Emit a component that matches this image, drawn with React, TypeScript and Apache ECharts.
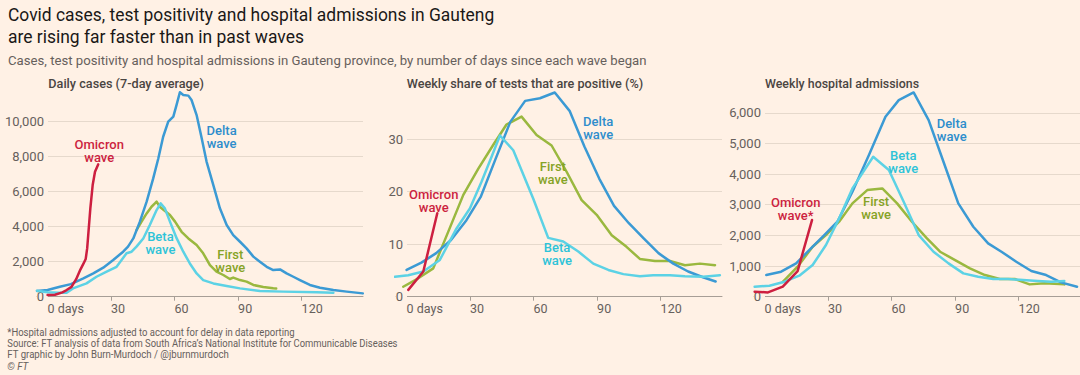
import React, { useEffect, useRef } from 'react';
import * as echarts from 'echarts';

// ---------- tick labels ----------
const dayTicks = [0, 30, 60, 90, 120];

// ---------- Panel 1: daily cases (7-day average), [day, value] ----------
const casesFirst = [[42, 3810], [44.4, 4290], [46.8, 4760], [49.1, 5140], [50.7, 5330], [51.5, 5430], [53, 5140], [57.8, 4670], [60.2, 4290], [63.3, 3710], [66.5, 3330], [70.4, 2950], [73.5, 2480], [76.7, 1810], [79.8, 1430], [83, 1240], [86.1, 1010], [87.7, 1090], [90.9, 950], [94, 860], [97.2, 670], [101.9, 550], [106.6, 480], [108, 470]];
const casesDelta = [[-5, 330], [0, 380], [5.8, 570], [11, 720], [16.9, 1050], [21.6, 1330], [26.3, 1660], [31, 2100], [35.7, 2570], [38, 2860], [40.5, 3330], [43.6, 4290], [46.8, 5430], [49.9, 6760], [52.3, 7900], [54.6, 9140], [57, 10000], [59.4, 10290], [60.9, 10950], [62.5, 11680], [64.1, 11530], [66.5, 11490], [68, 11240], [70.4, 10380], [72.8, 9050], [75.1, 7720], [78.3, 6380], [81.4, 5050], [84.6, 4100], [87.7, 3520], [90.9, 3140], [94, 2760], [97.2, 2290], [100.3, 2000], [103.5, 1710], [106.6, 1520], [109.8, 1560], [112.9, 1330], [116.1, 1140], [119.2, 950], [123.9, 670], [128.7, 510], [135, 380], [141.3, 290], [148.9, 190]];
const casesBeta = [[-5, 340], [0, 250], [5, 220], [9, 230], [12, 476], [18.4, 760], [23.1, 1140], [27.9, 1430], [32.6, 1710], [37.3, 2480], [39.7, 2570], [42, 2860], [45.2, 3330], [48.3, 4100], [51.5, 4950], [53.4, 5330], [55.4, 5050], [57.8, 4290], [61, 3330], [64.1, 2570], [67.2, 1900], [70.4, 1330], [73.5, 950], [78.3, 760], [84.6, 610], [90.9, 476], [100.3, 320], [111.3, 290], [127, 250], [135, 230]];
const casesOmicron = [[0, 100], [3.5, 110], [7, 250], [9, 380], [11.3, 560], [13.5, 1000], [15.5, 1550], [17, 1900], [18, 2150], [18.7, 2760], [19.2, 3520], [20.2, 5050], [21.3, 6380], [22.4, 7140], [23.9, 7560]];

// ---------- Panel 2: weekly test positivity (%) ----------
const posFirst = [[-1.6, 1.9], [5.5, 3.5], [12.6, 5.4], [19.7, 12.4], [26.8, 19.4], [33.9, 24.4], [40.9, 28.9], [47.2, 32.8], [54.3, 34.3], [61.4, 30.8], [68.5, 28.8], [75.6, 23.8], [82.7, 18.4], [89.8, 15.6], [96.9, 11.7], [103.9, 9.5], [110.2, 7.2], [117.3, 6.8], [124.4, 6.8], [131.5, 6.0], [138.6, 6.3], [145.7, 6.0]];
const posDelta = [[0, 5.1], [7, 6.5], [14, 8.3], [21, 10.8], [28, 14.4], [35, 19.0], [42, 26.2], [49, 33.3], [56, 37.3], [63, 37.8], [70, 38.9], [77, 35.4], [84, 28.6], [91, 22.5], [98, 17.3], [105, 14.0], [112, 11.1], [119, 8.3], [126, 6.3], [133, 4.8], [140, 3.7], [146, 2.9]];
const posBeta = [[-5.5, 3.8], [0.8, 4.1], [7.9, 4.8], [15.7, 7.0], [23.6, 13.0], [29.9, 16.8], [35.4, 21.9], [40.2, 26.7], [44.1, 30.7], [50.4, 27.9], [59.8, 18.7], [66.9, 11.2], [74, 10.5], [81.1, 8.6], [88.2, 6.3], [95.3, 5.1], [102.4, 4.3], [110.2, 3.9], [116.5, 4.1], [124.4, 4.1], [131.5, 3.9], [140.2, 3.8], [148, 4.1]];
const posOmicron = [[0.8, 1.3], [7.9, 4.8], [14.5, 15.9]];

// ---------- Panel 3: weekly hospital admissions ----------
const admFirst = [[8.6, 480], [15.6, 978], [22.7, 1630], [29, 2011], [35.2, 2446], [41.5, 3044], [48.5, 3478], [55.6, 3533], [62.6, 3044], [69.6, 2446], [76.7, 1902], [82.9, 1467], [90, 1196], [97, 924], [104.1, 707], [111.1, 576], [118.2, 576], [125.2, 402], [132.2, 435], [141.6, 402]];
const admDelta = [[0.8, 707], [7.8, 815], [14.9, 1087], [21.9, 1576], [28.2, 2011], [34.4, 2446], [41.5, 3424], [49.3, 4620], [57.1, 5870], [63.4, 6413], [70.4, 6663], [77.5, 5761], [84.5, 4402], [91.5, 3044], [98.6, 2283], [105.6, 1739], [111.9, 1467], [118.9, 1141], [126, 837], [133, 707], [140, 467], [147.6, 326]];
const admBeta = [[-4.7, 326], [2.3, 359], [9.4, 489], [16.4, 685], [22.7, 1033], [29, 1685], [35.2, 2554], [41.5, 3533], [47.7, 4185], [51.3, 4565], [58.7, 4131], [65.7, 3098], [72.8, 2011], [79.8, 1467], [86.9, 1087], [93.9, 761], [100.9, 652], [108, 576], [115, 576], [122.1, 544], [129.1, 511], [135.4, 489], [141.6, 511]];
const admOmicron = [[-4.7, 163], [1.6, 141], [8.6, 326], [15.6, 837], [22.4, 2500]];

// ---------- annotation anchors [day, value] ----------
const casesLabelAt = { omicron: [24.4, 8350], delta: [82.2, 9100], beta: [53.3, 3070], first: [86.3, 2040] };
const posLabelAt = { omicron: [12.8, 18.2], delta: [90.5, 32.1], beta: [71.1, 8.1], first: [69.1, 23.6] };
const admLabelAt = { omicron: [14.7, 2860], delta: [88.4, 5435], beta: [65.5, 4400], first: [52.7, 2890] };

const panelTitles = ['Daily cases (7-day average)', 'Weekly share of tests that are positive (%)', 'Weekly hospital admissions'];
const yMax = [12000, 40, 6850];
const yInterval = [2000, 10, 1000];

const titleLines = ['Covid cases, test positivity and hospital admissions in Gauteng', 'are rising far faster than in past waves'];
const subtitle = 'Cases, test positivity and hospital admissions in Gauteng province, by number of days since each wave began';
const footerLines = [
  '*Hospital admissions adjusted to account for delay in data reporting',
  "Source: FT analysis of data from South Africa\u2019s National Institute for Communicable Diseases",
  'FT graphic by John Burn-Murdoch / @jburnmurdoch',
  '\u00A9 FT',
];

const BG = '#fff1e5';
const COL = { first: '#9ab83f', delta: '#3b9ad4', beta: '#5cd2e5', omicron: '#cd1f40' };
const LABCOL = { first: '#86a326', delta: '#2e8dcc', beta: '#2ec3d8', omicron: '#cc1f40' };
const FONT = 'Roboto';

export default function App() {
  const ref = useRef<HTMLDivElement>(null);
  useEffect(() => {
    document.body.style.margin = '0';
    const chart = echarts.init(ref.current!, null, { renderer: 'svg' });
    const ctx = document.createElement('canvas').getContext('2d')!;
    const fit = (text: string, size: number, weight: number | string, target: number, style = 'normal') => {
      ctx.font = `${style} ${weight} ${size}px ${FONT}`;
      return target / ctx.measureText(text).width;
    };
    const gtext = (text: string, x: number, y: number, size: number, weight: any, fill: string, target: number, style = 'normal') => ({
      type: 'text', x, y, scaleX: fit(text, size, weight, target, style), silent: true,
      style: { text, fill, fontSize: size, fontWeight: weight, fontFamily: FONT, fontStyle: style, verticalAlign: 'middle', align: 'left' },
    });

    const gridLeft = [37, 396, 754];
    const grids = gridLeft.map((l) => ({ left: l, top: 86.7, width: 326, height: 210 }));
    const xAxes = gridLeft.map((_, i) => ({
      type: 'value', gridIndex: i, min: -5, max: 149,
      axisLine: { show: true, lineStyle: { color: '#a79e96', width: 1 } },
      axisTick: { show: true, customValues: dayTicks, length: 4, lineStyle: { color: '#a79e96' } },
      axisLabel: {
        customValues: dayTicks, align: 'left', margin: 5, color: '#66605c', fontSize: 12.5, fontFamily: FONT,
        formatter: (v: number) => (v === 0 ? '0 days' : String(v)),
      },
      splitLine: { show: false },
    }));
    const yAxes = gridLeft.map((_, i) => ({
      type: 'value', gridIndex: i, min: 0, max: yMax[i], interval: yInterval[i],
      axisLine: { show: false }, axisTick: { show: false },
      axisLabel: {
        showMaxLabel: false, margin: -11, color: '#66605c', fontSize: 13, fontFamily: FONT,
        backgroundColor: BG, padding: [0, 4, 0, 0],
        formatter: (v: number) => v.toLocaleString('en-US'),
      },
      splitLine: { show: true, showMaxLine: false, showMinLine: false, lineStyle: { color: '#e6d9cc', width: 1 } },
    }));

    const mk = (name: string, text: string, at: number[], color: string) => ({
      symbol: 'circle', symbolSize: 1, silent: true,
      itemStyle: { color: 'rgba(0,0,0,0)' },
      label: { show: true, position: 'inside', formatter: text, color, fontSize: 13, fontWeight: 500, fontFamily: FONT, lineHeight: 13, align: 'center', verticalAlign: 'middle' },
      data: [{ name, coord: at }],
    });
    const line = (key: 'first' | 'delta' | 'beta' | 'omicron', data: number[][], gi: number, at: number[], text: string, z: number) => ({
      type: 'line', name: key + gi, data, xAxisIndex: gi, yAxisIndex: gi, z,
      showSymbol: false, symbol: 'none', smooth: false,
      lineStyle: { color: COL[key], width: 2.5, join: 'round', cap: 'round' }, itemStyle: { color: COL[key] },
      emphasis: { disabled: true }, silent: true,
      markPoint: mk(key, text, at, LABCOL[key]),
    });

    const panels = [
      { d: { first: casesFirst, delta: casesDelta, beta: casesBeta, omicron: casesOmicron }, at: casesLabelAt, star: '' },
      { d: { first: posFirst, delta: posDelta, beta: posBeta, omicron: posOmicron }, at: posLabelAt, star: '' },
      { d: { first: admFirst, delta: admDelta, beta: admBeta, omicron: admOmicron }, at: admLabelAt, star: '*' },
    ];
    const series: any[] = [];
    panels.forEach((p, gi) => {
      series.push(line('first', p.d.first, gi, p.at.first, 'First\nwave', 2));
      series.push(line('delta', p.d.delta, gi, p.at.delta, 'Delta\nwave', 3));
      series.push(line('beta', p.d.beta, gi, p.at.beta, 'Beta\nwave', 4));
      series.push(line('omicron', p.d.omicron, gi, p.at.omicron, 'Omicron\nwave' + p.star, 5));
    });

    const graphics: any[] = [
      gtext(titleLines[0], 8, 13.8, 19, 400, '#1a1817', 487),
      gtext(titleLines[1], 8, 35.8, 19, 400, '#1a1817', 296),
      gtext(subtitle, 8, 61, 13, 400, '#66605c', 639),
      gtext(panelTitles[0], 48.3, 83.5, 12.5, 500, '#4a4542', 155.7),
      gtext(panelTitles[1], 406.7, 83.5, 12.5, 500, '#4a4542', 236.6),
      gtext(panelTitles[2], 765, 83.5, 12.5, 500, '#4a4542', 154.3),
      gtext(footerLines[0], 7.3, 332, 10.5, 400, '#66605c', 287.7),
      gtext(footerLines[1], 7.3, 343.3, 10.5, 400, '#66605c', 391),
      gtext(footerLines[2], 7.3, 354.6, 10.5, 400, '#66605c', 222),
      gtext(footerLines[3], 7.3, 366.3, 10.5, 400, '#66605c', 21, 'italic'),
    ];

    chart.setOption({
      animation: false,
      backgroundColor: BG,
      grid: grids,
      xAxis: xAxes,
      yAxis: yAxes,
      series,
      graphic: graphics,
    });
    return () => chart.dispose();
  }, []);
  return <div ref={ref} style={{ width: 1080, height: 375 }} />;
}
